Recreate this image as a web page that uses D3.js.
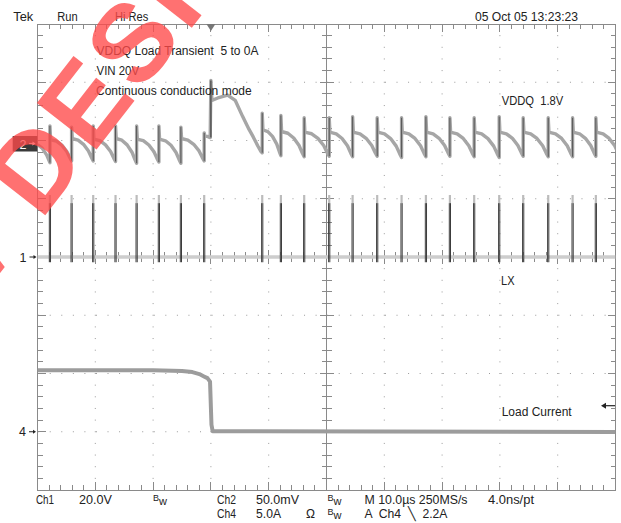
<!DOCTYPE html>
<html><head><meta charset="utf-8">
<script src="https://cdn.jsdelivr.net/npm/d3@7"></script>
<style>
body{margin:0;background:#fff}
svg{display:block}
text{font-family:"Liberation Sans",Arial,sans-serif;fill:#222;white-space:pre}
</style>
</head><body><svg id="c" width="621" height="523"></svg>
<script>
// ---------------- data ----------------
const timeDomain = [-30, 70];          // µs, 10 µs/div, trigger at 0
const divDomain = [-4, 4];             // vertical divisions
const ch1OffsetDiv = 0, ch1VoltsPerDiv = 20;     // LX
const ch2OffsetDiv = 1.95, ch2mVPerDiv = 50;     // VDDQ (AC, mV)
const ch4OffsetDiv = -3, ch4AmpsPerDiv = 5;      // load current

// switching instants (µs) seen on LX and VDDQ
const switchTimes = [-27.85, -24.1, -20.36, -16.5, -12.85, -9.0, -5.19, -1.16,
  8.88, 12.11, 16.14, 20.47, 24.52, 28.77, 32.99, 37.2, 41.35, 45.55, 49.88,
  54.03, 58.36, 62.58, 66.6];
const lxPulseTopV = 21.3, lxPulseDarkTopV = 18.5, lxRingV = -1.8;

// VDDQ ripple per switching cycle (mV)
const vddqLow   = [-16.5,-15,-15,-15.5,-17,-16,-17,-15, -8,-10.5,-11.5,-11,-11.5,-11,-12,-11.5,-11,-11.5,-12,-11,-11.5,-11.5,-11];
const vddqSpike = [15,14,15,15,15,15,14,9, 26,24,22,22,23,22,22,23,22,22,23,22,22,22,22];
const vddqHigh  = [3,4,3.5,4,3.5,3.5,4,6, 11.5,10,9.5,9.5,9.5,9.5,9.5,9.5,9.5,9.5,9.5,9.5,9.5,9.5,9.5];
const vddqStart = [[-30,-1],[-29.2,-4],[-28.4,-10]];
const vddqEnd = [70.8, -11.5];
// load-step overshoot of VDDQ [µs, mV]
const vddqStep = [[-0.6,6],[-0.12,5],[0,54],[0.17,37],[1.2,39],[2.9,41.5],[4.2,37],[5.5,23],[6.6,12],[7.3,5.8],[8.1,-2],[8.6,-6.5]];
// ripple decay profile between switching events (fraction of period, fraction of drop)
const rippleFrac = [0.06, 0.3, 0.55, 0.78, 0.92];
const rippleDrop = [0, 0.06, 0.25, 0.55, 0.85];
const stepIndex = 7;

// load current [µs, A]
const loadCurrent = [[-30,5.27],[-10,5.27],[-5,5.22],[-3.2,5.12],[-2.0,4.95],[-1.2,4.75],[-0.6,4.6],[-0.15,4.3],[0.1,0.6],[0.3,0.05],[70,-0.02]];

// ---------------- drawing ----------------
const svg = d3.select("#c");
const xs = d3.scaleLinear().domain(timeDomain).range([37.5, 615.5]);
const ys = d3.scaleLinear().domain(divDomain).range([490, 24]);
const gridCol = "#8a8a8a";

const y1 = v => ys(ch1OffsetDiv + v / ch1VoltsPerDiv);
const y2 = mv => ys(ch2OffsetDiv + mv / ch2mVPerDiv);
const y4 = a => ys(ch4OffsetDiv + a / ch4AmpsPerDiv);

svg.append("defs").append("clipPath").attr("id","fr").append("rect")
  .attr("x", xs(timeDomain[0])).attr("y", ys(4)).attr("width", xs(timeDomain[1]) - xs(timeDomain[0])).attr("height", ys(-4) - ys(4));

const g = svg.append("g");
const X0 = xs(timeDomain[0]), X1 = xs(timeDomain[1]), Y0 = ys(4), Y1 = ys(-4);
const xc = xs(20), yc = ys(0);

// grid dots
const dots = g.append("g").attr("fill", "#9a9a9a");
d3.range(1, 10).filter(k => k !== 5).forEach(k => {
  const t = timeDomain[0] + 10 * k;
  d3.range(-4 + 0.2, 4, 0.2).forEach(d => dots.append("rect").attr("x", xs(t) - 0.5).attr("y", ys(d) - 0.5).attr("width", 1).attr("height", 1));
});
d3.range(-3, 4).filter(k => k !== 0).forEach(k => {
  d3.range(0.2, 100, 2).forEach(i => {
    const t = timeDomain[0] + i;
    dots.append("rect").attr("x", xs(t) - 0.5).attr("y", ys(k) - 0.5).attr("width", 1).attr("height", 1);
  });
});

// frame + centre cross
const ln = g.append("g").attr("stroke", gridCol).attr("stroke-width", 1).attr("shape-rendering", "crispEdges");
ln.append("rect").attr("x", X0).attr("y", Y0).attr("width", X1 - X0).attr("height", Y1 - Y0).attr("fill", "none");
ln.append("line").attr("x1", xc).attr("x2", xc).attr("y1", Y0).attr("y2", Y1);
ln.append("line").attr("x1", X0).attr("x2", X1).attr("y1", yc).attr("y2", yc);
d3.range(1, 50).forEach(i => {
  const t = timeDomain[0] + i * 2, x = xs(t), major = i % 5 === 0;
  const L = major ? 8 : 5;
  ln.append("line").attr("x1", x).attr("x2", x).attr("y1", Y0).attr("y2", Y0 + L);
  ln.append("line").attr("x1", x).attr("x2", x).attr("y1", Y1).attr("y2", Y1 - L);
  ln.append("line").attr("x1", x).attr("x2", x).attr("y1", yc - (major ? 7 : 5)).attr("y2", yc + (major ? 7 : 5));
});
d3.range(1, 40).forEach(i => {
  const d = -4 + i * 0.2, y = ys(d), major = i % 5 === 0;
  const L = major ? 8 : 5;
  ln.append("line").attr("y1", y).attr("y2", y).attr("x1", X0).attr("x2", X0 + L);
  ln.append("line").attr("y1", y).attr("y2", y).attr("x1", X1).attr("x2", X1 - L);
  ln.append("line").attr("y1", y).attr("y2", y).attr("x1", xc - (major ? 7 : 5)).attr("x2", xc + (major ? 7 : 5));
});

// trigger position marker
const tx = xs(0);
g.append("path").attr("d", `M${tx-4.5},${Y0}L${tx+4.5},${Y0}L${tx},${Y0+7}Z`).attr("fill", "#777");

const traces = svg.append("g").attr("clip-path", "url(#fr)");
const line = d3.line().x(d => xs(d[0]));

// ---- CH4 load current
traces.append("path").datum(loadCurrent)
  .attr("d", line.y(d => y4(d[1]))).attr("fill", "none").attr("stroke", "#9c9c9c").attr("stroke-width", 4).attr("stroke-linejoin", "round");

// ---- CH1 LX
traces.append("line").attr("x1", X0).attr("x2", X1).attr("y1", y1(0)).attr("y2", y1(0))
  .attr("stroke", "#cdcdcd").attr("stroke-width", 3.5);
switchTimes.forEach(s => {
  const x = xs(s);
  [-0.6, 0.6].forEach(o => {
    traces.append("line").attr("x1", x + o).attr("x2", x + o).attr("y1", y1(lxRingV)).attr("y2", y1(lxPulseDarkTopV))
      .attr("stroke", "#3c3c3c").attr("stroke-width", 1);
  });
  traces.append("line").attr("x1", x).attr("x2", x).attr("y1", y1(lxPulseDarkTopV)).attr("y2", y1(lxPulseTopV))
    .attr("stroke", "#bcbcbc").attr("stroke-width", 2.2);
});

// ---- CH2 VDDQ
const vpts = vddqStart.slice();
switchTimes.forEach((s, i) => {
  vpts.push([s, vddqLow[i]], [s, vddqSpike[i]], [s + 0.12, vddqHigh[i]]);
  if (i === stepIndex) { vddqStep.forEach(p => vpts.push(p)); return; }
  const next = i + 1 < switchTimes.length ? switchTimes[i + 1] : vddqEnd[0];
  const lowN = i + 1 < switchTimes.length ? vddqLow[i + 1] : vddqEnd[1];
  const P = next - s;
  rippleFrac.forEach((f, k) => vpts.push([s + f * P, vddqHigh[i] - rippleDrop[k] * (vddqHigh[i] - lowN)]));
});
vpts.push(vddqEnd);
traces.append("path").datum(vpts)
  .attr("d", line.y(d => y2(d[1]))).attr("fill", "none").attr("stroke", "#a6a6a6").attr("stroke-width", 3.4).attr("stroke-linejoin", "round");
switchTimes.forEach((s, i) => {
  traces.append("line").attr("x1", xs(s)).attr("x2", xs(s)).attr("y1", y2(vddqLow[i])).attr("y2", y2(vddqSpike[i]))
    .attr("stroke", "#555").attr("stroke-width", 1);
});
traces.append("line").attr("x1", xs(0)).attr("x2", xs(0)).attr("y1", y2(5)).attr("y2", y2(54))
  .attr("stroke", "#444").attr("stroke-width", 1.2);

// ---------------- text ----------------
function txt(x, y, s, w, size) {
  const t = svg.append("text").attr("x", x).attr("y", y).attr("font-size", size || 12.5).attr("xml:space", "preserve").text(s);
  if (w) t.attr("textLength", w).attr("lengthAdjust", "spacingAndGlyphs");
  return t;
}
txt(13.3, 21, "Tek", 20);
txt(57.3, 21, "Run", 20.4);
txt(115, 21, "Hi Res", 33.3);
txt(475, 21, "05 Oct 05 13:23:23", 103);
txt(96.5, 55, "VDDQ Load Transient  5 to 0A", 162);
txt(96.5, 75, "VIN 20V", 42.6);
txt(96, 95, "Continuous conduction mode", 155.7);
txt(501.7, 105, "VDDQ  1.8V", 61.6);
txt(501, 285, "LX", 13.5);
txt(501.7, 416, "Load Current", 70);

function bw(x, y) {
  const t = svg.append("text").attr("x", x).attr("y", y).attr("font-size", 9);
  t.append("tspan").attr("dy", -3).text("B");
  t.append("tspan").attr("dy", 4).attr("font-size", 11).text("w");
}
txt(36, 504, "Ch1", 18);
txt(79, 504, "20.0V", 33);
bw(153, 504);
txt(217, 504, "Ch2", 19);
txt(256, 504, "50.0mV", 43);
bw(327.5, 504);
txt(364.5, 504, "M 10.0µs 250MS/s", 103);
txt(488, 504, "4.0ns/pt", 46);
txt(217, 518, "Ch4", 19);
txt(256, 518, "5.0A", 25);
txt(306, 518, "Ω", 9);
bw(327.5, 518);
txt(364.5, 518, "A  Ch4  \u2572  2.2A", 83);

// channel markers
svg.append("rect").attr("x", 12.7).attr("y", 136).attr("width", 24.6).attr("height", 15.5).attr("fill", "#3a3a3a");
function arrowR(x1, x2, y, col) {
  svg.append("line").attr("x1", x1).attr("x2", x2 - 2).attr("y1", y).attr("y2", y).attr("stroke", col).attr("stroke-width", 1);
  svg.append("path").attr("d", `M${x2},${y}L${x2-3},${y-2}L${x2-3},${y+2}Z`).attr("fill", col);
}
svg.append("text").attr("x", 19.5).attr("y", 148.5).attr("font-size", 12.5).style("fill", "#fff").text("2");
arrowR(29, 35.5, y2(0), "#fff");
txt(19.5, y1(0) + 4.5, "1");
arrowR(29.5, 36.5, y1(0), "#222");
txt(19, y4(0) + 4.5, "4");
arrowR(29, 36, y4(0), "#222");
// trigger level arrow (right side)
svg.append("line").attr("x1", 615).attr("x2", 605).attr("y1", 405.7).attr("y2", 405.7).attr("stroke", "#222").attr("stroke-width", 1.2);
svg.append("path").attr("d", "M601,405.7L606,402.7L606,408.7Z").attr("fill", "#222");

// watermark
svg.append("text").attr("transform", "translate(-146,460) rotate(-52)")
  .attr("font-size", 110).attr("font-weight", "bold").attr("letter-spacing", 4)
  .style("fill", "#ff4a4a").attr("opacity", 0.78).attr("xml:space", "preserve").text("NEW DESIGN");
</script></body></html>
